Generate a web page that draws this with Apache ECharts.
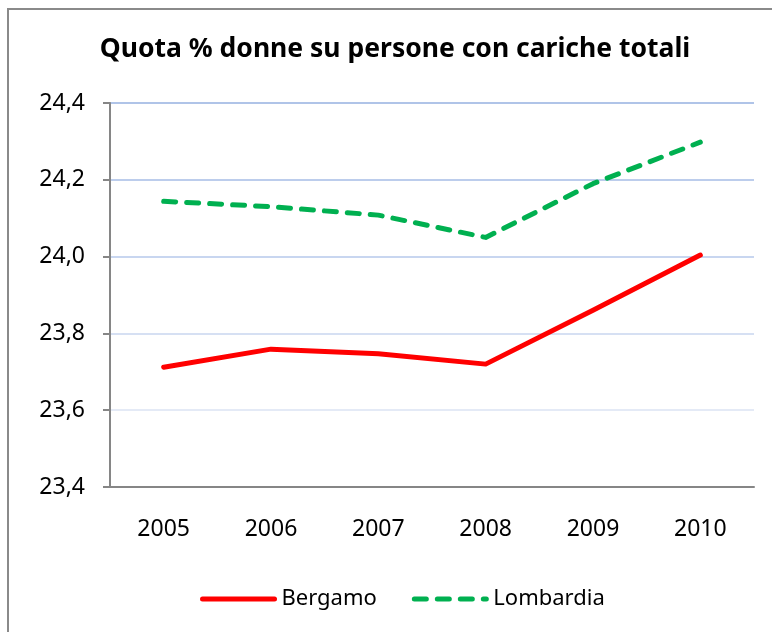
<!DOCTYPE html>
<html>
<head>
<meta charset="utf-8">
<script src="https://cdn.jsdelivr.net/npm/echarts@6/dist/echarts.min.js"></script>
<style>
  html, body { margin: 0; padding: 0; background: #fff; }
  #chart { width: 772px; height: 632px; }
</style>
</head>
<body>
<div id="chart"></div>
<script>
  var years = ['2005', '2006', '2007', '2008', '2009', '2010'];
  var bergamo = [23.712, 23.759, 23.747, 23.72, 23.86, 24.004];
  var lombardia = [24.144, 24.13, 24.108, 24.05, 24.19, 24.298];

  var font = 'Noto Sans';
  var chart = echarts.init(document.getElementById('chart'));
  chart.setOption({
    backgroundColor: '#fff',
    animation: false,
    title: {
      text: 'Quota % donne su persone con cariche totali',
      left: 390,
      textAlign: 'center',
      top: 31,
      textStyle: { fontFamily: font, fontSize: 26.5, fontWeight: 'bold', color: '#000' }
    },
    graphic: [{
      type: 'rect',
      shape: { x: 8, y: 9, width: 800, height: 700 },
      style: { fill: 'none', stroke: '#8a8a8a', lineWidth: 2 },
      silent: true
    }],
    legend: {
      bottom: 17,
      left: 195,
      itemGap: 35,
      itemWidth: 72,
      itemHeight: 10,
      itemStyle: { opacity: 0 },
      lineStyle: { width: 5 },
      textStyle: { fontFamily: font, fontSize: 22, color: '#000', padding: [0, 0, 0, 2] },
      data: ['Bergamo', 'Lombardia']
    },
    grid: { left: 110, top: 103, right: 18, bottom: 145 },
    xAxis: {
      type: 'category',
      data: years,
      axisLine: { lineStyle: { color: '#868686', width: 2 } },
      axisTick: { length: 7, lineStyle: { color: '#868686', width: 2 } },
      axisLabel: { margin: 31, fontFamily: font, fontSize: 23, color: '#000' }
    },
    yAxis: {
      type: 'value',
      min: 23.4,
      max: 24.4,
      interval: 0.2,
      axisLine: { show: true, lineStyle: { color: '#868686', width: 2 } },
      axisTick: { show: true, length: 7, lineStyle: { color: '#868686', width: 2 } },
      axisLabel: {
        margin: 25,
        fontFamily: font, fontSize: 23, color: '#000',
        formatter: function (v) { return v.toFixed(1).replace('.', ','); }
      },
      splitLine: {
        lineStyle: {
          width: 2,
          color: ['#868686', '#e4eaf6', '#d6e0f3', '#c8d6f0', '#bccdec', '#b0c4e8']
        }
      }
    },
    series: [
      {
        name: 'Bergamo',
        type: 'line',
        data: bergamo,
        symbol: 'none',
        color: '#ff0000',
        lineStyle: { color: '#ff0000', width: 5, cap: 'round', join: 'round' }
      },
      {
        name: 'Lombardia',
        type: 'line',
        data: lombardia,
        symbol: 'none',
        color: '#00b050',
        lineStyle: { color: '#00b050', width: 5, type: [12, 11], cap: 'round', join: 'round' }
      }
    ]
  });
</script>
</body>
</html>
